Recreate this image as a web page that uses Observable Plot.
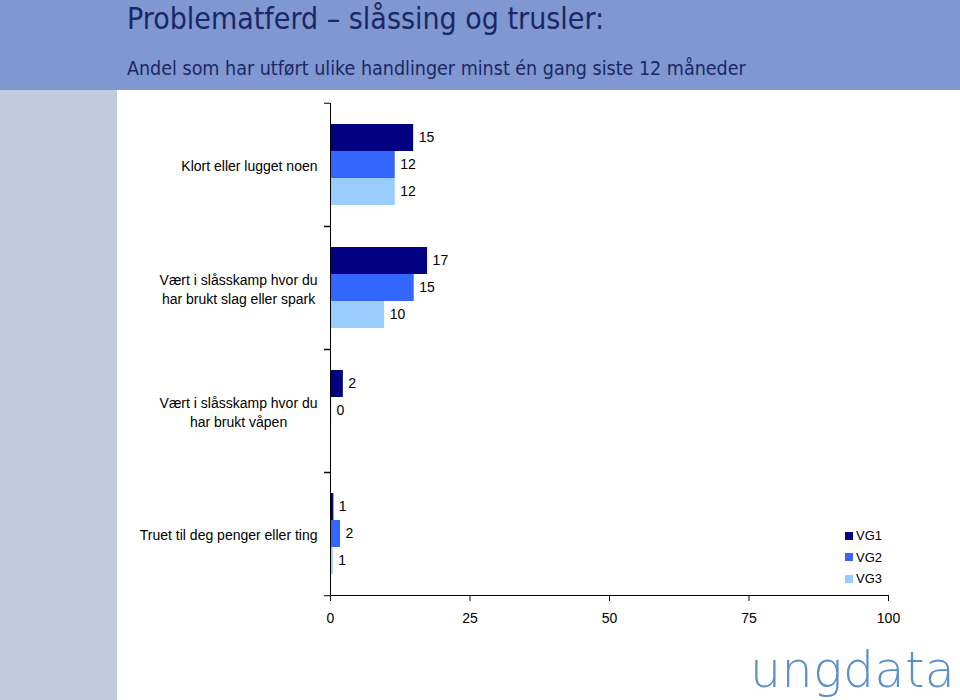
<!DOCTYPE html>
<html><head><meta charset="utf-8">
<script src="https://cdn.jsdelivr.net/npm/d3@7"></script>
<script src="https://cdn.jsdelivr.net/npm/@observablehq/plot@0.6"></script>
<style>
body{margin:0;background:#fff;}
#page{position:relative;width:960px;height:700px;overflow:hidden;background:#fff;font-family:"Liberation Sans",Arial,sans-serif;}
#header{position:absolute;left:0;top:0;width:960px;height:90px;background:#8097d1;}
#side{position:absolute;left:0;top:90px;width:117px;height:610px;background:#c1cbdf;}
#title{position:absolute;left:127px;top:4px;font-family:"DejaVu Sans Condensed","DejaVu Sans";font-stretch:condensed;font-size:30px;line-height:30px;color:#1b2766;white-space:nowrap;}
#subtitle{position:absolute;left:127px;top:59px;font-family:"DejaVu Sans Condensed","DejaVu Sans";font-stretch:condensed;font-size:19.5px;line-height:20px;color:#1b2766;white-space:nowrap;}
#chart{position:absolute;left:117px;top:90px;}
#legend{position:absolute;left:845px;top:525px;font-size:13px;color:#000;}
#legend .item{display:flex;align-items:center;height:21.5px;}
#legend .sw{width:8px;height:8px;margin-right:3px;}
#logo{position:absolute;left:750px;top:646px;font-family:"DejaVu Sans";font-weight:200;font-size:49px;line-height:49px;letter-spacing:0.5px;color:#5a8fcb;white-space:nowrap;}
</style>
</head><body>
<div id="page">
  <div id="header"></div>
  <div id="side"></div>
  <div id="title"></div>
  <div id="subtitle"></div>
  <div id="chart"></div>
  <div id="legend"></div>
  <div id="logo">ungdata</div>
</div>
<script>
const titleText = "Problematferd – slåssing og trusler:";
const subtitleText = "Andel som har utført ulike handlinger minst én gang siste 12 måneder";
const categories = [
  "Klort eller lugget noen",
  "Vært i slåsskamp hvor du\nhar brukt slag eller spark",
  "Vært i slåsskamp hvor du\nhar brukt våpen",
  "Truet til deg penger eller ting"
];
const series = ["VG1", "VG2", "VG3"];
const vg1 = [14.9, 17.4, 2.3, 0.6];
const vg2 = [11.6, 15.0, 0.2, 1.8];
const vg3 = [11.6, 9.7, null, 0.5];
const colors = ["#000080", "#3366ff", "#99ccff"];
const xTicks = [0, 25, 50, 75, 100];

document.getElementById("title").textContent = titleText;
document.getElementById("subtitle").textContent = subtitleText;

const seriesValues = [vg1, vg2, vg3];
const rows = [];
categories.forEach((c, i) => {
  series.forEach((s, j) => {
    const v = seriesValues[j][i];
    if (v != null) rows.push({category: c, series: s, value: v});
  });
});

// measure label widths to center multi-line labels
const ctx = document.createElement("canvas").getContext("2d");
ctx.font = "14px 'Liberation Sans', Arial, sans-serif";
const labelMarks = categories.map(c => {
  const w = Math.max(...c.split("\n").map(l => ctx.measureText(l).width));
  return Plot.text([c], {
    fy: d => d, text: d => d, frameAnchor: "left", textAnchor: "middle",
    dx: -(13 + w / 2), lineHeight: 1.36, fontSize: 14, fill: "#000"
  });
});

const W = 843, H = 546, mT = 12, mB = 40;
const step = (H - mT - mB) / categories.length;

const chart = Plot.plot({
  width: W, height: H,
  marginLeft: 213, marginRight: 72, marginTop: mT, marginBottom: mB,
  x: {domain: [0, 100], label: null},
  y: {domain: series, paddingInner: 0, paddingOuter: 0.75, axis: null},
  fy: {domain: categories, padding: 0, axis: null, label: null},
  color: {domain: series, range: colors},
  style: {fontFamily: "'Liberation Sans', Arial, sans-serif", fontSize: "14px", color: "#000", background: "transparent"},
  marks: [
    Plot.barX(rows, {x: "value", y: "series", fy: "category", fill: "series"}),
    Plot.text(rows, {x: "value", y: "series", fy: "category", text: d => String(Math.round(d.value)),
      textAnchor: "start", dx: 5, fontSize: 14, fill: "#000"}),
    Plot.ruleX([0], {stroke: "#000", strokeWidth: 1}),
    Plot.frame({anchor: "bottom", facet: "super", stroke: "#000"}),
    Plot.axisFy({anchor: "left", tickSize: 6, dy: -step / 2, tickFormat: () => "", label: null, stroke: "#000"}),
    Plot.axisFy({anchor: "left", tickSize: 6, dy: step / 2, tickFormat: () => "", label: null, stroke: "#000"}),
    Plot.axisX({ticks: xTicks, tickSize: 6, tickPadding: 12, fontSize: 14, label: null, stroke: "#000", fill: "#000"}),
    ...labelMarks
  ]
});
document.getElementById("chart").appendChild(chart);

const legend = document.getElementById("legend");
series.forEach((s, i) => {
  const item = document.createElement("div");
  item.className = "item";
  const sw = document.createElement("div");
  sw.className = "sw";
  sw.style.background = colors[i];
  const t = document.createElement("span");
  t.textContent = s;
  item.appendChild(sw); item.appendChild(t);
  legend.appendChild(item);
});
</script>
</body></html>
